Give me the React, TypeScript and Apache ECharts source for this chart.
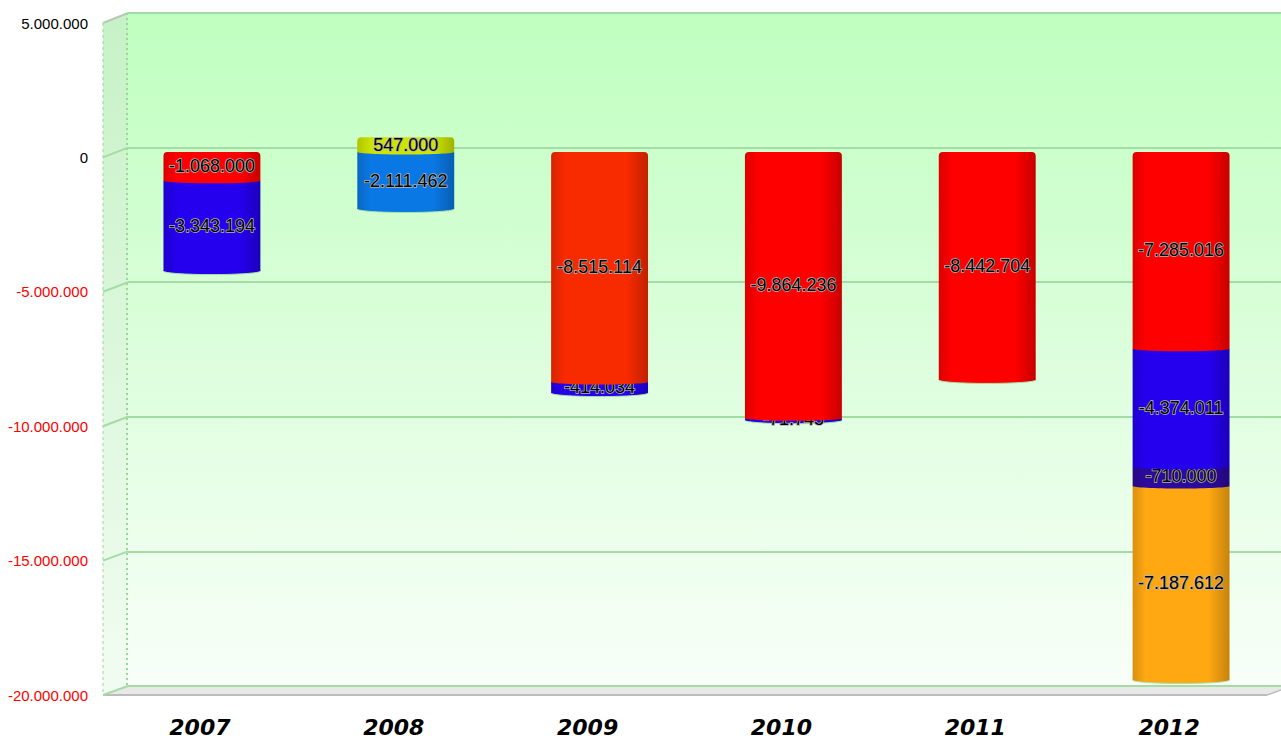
import React, { useEffect, useRef } from "react";
import * as echarts from "echarts";

const categories = ["2007", "2008", "2009", "2010", "2011", "2012"];
// stacked segments from top (nearest to zero) downwards
const positiveSeg = [null, 547000, null, null, null, null];
const seg1 = [-1068000, -2111462, -8515114, -9864236, -8442704, -7285016];
const seg2 = [-3343194, null, -414034, -71745, null, -4374011];
const seg3 = [null, null, null, null, null, -710000];
const seg4 = [null, null, null, null, null, -7187612];

const positiveColors = ["#cce400", "#cce400", "#cce400", "#cce400", "#cce400", "#cce400"];
const seg1Colors = ["#ff0000", "#0a78e4", "#f82a00", "#ff0000", "#ff0000", "#ff0000"];
const seg2Colors = ["#2400ee", "#2400ee", "#2400ee", "#2400ee", "#2400ee", "#2400ee"];
const seg3Colors = ["#2c0a9c", "#2c0a9c", "#2c0a9c", "#2c0a9c", "#2c0a9c", "#2c0a9c"];
const seg4Colors = ["#ffa812", "#ffa812", "#ffa812", "#ffa812", "#ffa812", "#ffa812"];

const yTicks = { min: -20000000, max: 5000000, interval: 5000000 };

function fmt(v: number): string {
  const s = String(Math.round(Math.abs(v))).replace(/\B(?=(\d{3})+(?!\d))/g, ".");
  return (v < 0 ? "-" : "") + s;
}

function darken(hex: string, f: number): string {
  const n = parseInt(hex.slice(1), 16);
  const r = Math.round(((n >> 16) & 255) * f);
  const g = Math.round(((n >> 8) & 255) * f);
  const b = Math.round((n & 255) * f);
  return `rgb(${r},${g},${b})`;
}

function buildSegments() {
  const negLists = [seg1, seg2, seg3, seg4];
  const negColors = [seg1Colors, seg2Colors, seg3Colors, seg4Colors];
  const out: { data: number[][]; colors: string[] }[] = [];
  const posData: number[][] = [];
  categories.forEach((_, i) => {
    const v = positiveSeg[i];
    if (v != null) posData.push([i, 0, v, v, 1, 0]);
  });
  out.push({ data: posData, colors: positiveColors });
  const cum = categories.map(() => 0);
  const lastIdx = categories.map((_, i) => {
    let l = -1;
    negLists.forEach((arr, k) => { if (arr[i] != null) l = k; });
    return l;
  });
  negLists.forEach((arr, k) => {
    const data: number[][] = [];
    categories.forEach((_, i) => {
      const v = arr[i];
      if (v == null) return;
      const start = cum[i];
      const end = start + v;
      cum[i] = end;
      const isTop = k === 0 && positiveSeg[i] == null ? 1 : 0;
      const isBottom = lastIdx[i] === k ? 1 : 0;
      data.push([i, start, end, v, isTop, isBottom]);
    });
    out.push({ data, colors: negColors[k] });
  });
  return out;
}

export default function App() {
  const ref = useRef<HTMLDivElement>(null);
  useEffect(() => {
    if (!ref.current) return;
    const chart = echarts.init(ref.current, undefined, { renderer: "svg" });
    const segs = buildSegments();

    const makeRender = (colors: string[]) => (params: any, api: any) => {
      const i = api.value(0);
      const start = api.value(1);
      const end = api.value(2);
      const val = api.value(3);
      const isTop = api.value(4);
      const isBottom = api.value(5);
      const p0 = api.coord([i, start]);
      const p1 = api.coord([i, end]);
      const w = api.size([1, 0])[0] * 0.5;
      const x = p0[0] - w / 2;
      const yTop = Math.min(p0[1], p1[1]);
      const yBot = Math.max(p0[1], p1[1]);
      const base = colors[i];
      const grad = new echarts.graphic.LinearGradient(0, 0, 1, 0, [
        { offset: 0, color: darken(base, 0.86) },
        { offset: 0.14, color: base },
        { offset: 0.78, color: base },
        { offset: 1, color: darken(base, 0.78) },
      ]);
      const children: any[] = [];
      const ry = 3.5;
      children.push({
        type: "ellipse",
        shape: { cx: x + w / 2, cy: yBot, rx: w / 2, ry: isBottom ? ry : 2.5 },
        style: isBottom ? { fill: grad, stroke: "#a6e6a6", lineWidth: 1 } : { fill: grad },
      });
      children.push({
        type: "rect",
        shape: { x, y: yTop, width: w, height: yBot - yTop, r: isTop ? [4, 4, 0, 0] : 0 },
        style: { fill: grad },
      });
      children.push({
        type: "text",
        x: x + w / 2,
        y: (yTop + yBot) / 2,
        style: {
          text: fmt(val),
          align: "center",
          verticalAlign: "middle",
          fontFamily: "Liberation Sans, Arial, sans-serif",
          fontSize: 18,
          fill: "#000",
          stroke: "#b4b4b4",
          lineWidth: 1.5,
        },
        z2: 100,
      });
      return { type: "group", children };
    };

    const series: any[] = segs.map((s, k) => ({
      type: "custom",
      xAxisIndex: 2,
      yAxisIndex: 2,
      z: 10 - k,
      renderItem: makeRender(s.colors),
      data: s.data,
      encode: { x: 0, y: [1, 2] },
    }));

    const greenLine = "#a4dca4";

    chart.setOption({
      animation: false,
      grid: [
        { left: 103, right: 15, top: 23, bottom: 40 },
        {
          left: 128, right: 0, top: 13, bottom: 52, show: true, borderWidth: 0,
          backgroundColor: new echarts.graphic.LinearGradient(0, 0, 0, 1, [
            { offset: 0, color: "#bfffbf" },
            { offset: 0.5, color: "#dcfedc" },
            { offset: 1, color: "#f8fff8" },
          ]),
        },
        { left: 115, right: 3, top: 17, bottom: 46 },
      ],
      xAxis: [
        {
          type: "category", gridIndex: 0, data: categories,
          axisLine: { show: false }, axisTick: { show: false },
          axisLabel: {
            margin: 21, color: "#000", fontSize: 22, fontWeight: "bold", fontStyle: "italic",
            fontFamily: "DejaVu Sans, sans-serif",
          },
        },
        { type: "category", gridIndex: 1, data: categories, show: false },
        { type: "category", gridIndex: 2, data: categories, show: false },
      ],
      yAxis: [
        {
          type: "value", gridIndex: 0, ...yTicks,
          axisLine: { show: false }, axisTick: { show: false }, splitLine: { show: false },
          axisLabel: {
            margin: 15, fontSize: 15, fontFamily: "Liberation Sans, Arial, sans-serif",
            formatter: (v: number) => fmt(v),
            color: (v: any) => (Number(v) < 0 ? "#ff0000" : "#000000"),
          },
        },
        {
          type: "value", gridIndex: 1, ...yTicks,
          axisLine: { show: false }, axisTick: { show: false }, axisLabel: { show: false },
          splitLine: { show: true, lineStyle: { color: greenLine, width: 2 } },
        },
        { type: "value", gridIndex: 2, ...yTicks, show: false },
      ],
      series,
    });

    // 3D decorations (walls, floor, slanted tick lines) derived from the axes
    const ticks: number[] = [];
    for (let v = yTicks.min; v <= yTicks.max; v += yTicks.interval) ticks.push(v);
    const fx = 103, bx = 128;
    const yF = (v: number) => chart.convertToPixel({ yAxisIndex: 0 }, v) as number;
    const yB = (v: number) => chart.convertToPixel({ yAxisIndex: 1 }, v) as number;
    const topF = yF(yTicks.max), topB = yB(yTicks.max);
    const botF = yF(yTicks.min), botB = yB(yTicks.min);
    const W = 1281;
    const graphic: any[] = [
      {
        type: "polygon", z: -1,
        shape: { points: [[fx, topF], [bx, topB], [bx, botB], [fx, botF]] },
        style: {
          fill: new echarts.graphic.LinearGradient(0, 0, 0, 1, [
            { offset: 0, color: "#c6f2c6" },
            { offset: 1, color: "#f2fcf2" },
          ]),
        },
      },
      {
        type: "polygon", z: -1,
        shape: { points: [[fx, botF], [bx, botB], [W, botB], [W, botB + 4], [W - 14, botF]] },
        style: { fill: "#e8e8e8" },
      },
      { type: "line", z: 0, shape: { x1: fx, y1: botF, x2: W - 14, y2: botF }, style: { stroke: "#bcbcbc", lineWidth: 2 } },
      { type: "line", z: 0, shape: { x1: W - 14, y1: botF, x2: W, y2: botB + 4 }, style: { stroke: "#bcbcbc", lineWidth: 1.5 } },
      { type: "line", z: 0, shape: { x1: fx, y1: topF, x2: bx, y2: topB }, style: { stroke: "#b8c8b8", lineWidth: 2 } },
      { type: "line", z: 0, shape: { x1: fx, y1: topF, x2: fx, y2: botF }, style: { stroke: "#9ad89a", lineWidth: 1, lineDash: [3, 3] } },
      { type: "line", z: 0, shape: { x1: bx - 1, y1: topB, x2: bx - 1, y2: botB }, style: { stroke: "#9ad89a", lineWidth: 2, lineDash: [2, 3] } },
    ];
    ticks.forEach((v) => {
      if (v === yTicks.max) return;
      graphic.push({
        type: "line", z: 0,
        shape: { x1: fx, y1: yF(v), x2: bx, y2: yB(v) },
        style: { stroke: greenLine, lineWidth: 2 },
      });
    });
    graphic.push({ type: "line", z: 0, shape: { x1: bx, y1: botB, x2: W, y2: botB }, style: { stroke: greenLine, lineWidth: 2 } });
    chart.setOption({ graphic });

    return () => chart.dispose();
  }, []);

  return <div ref={ref} style={{ width: 1281, height: 738, position: "absolute", left: 0, top: 0 }} />;
}
